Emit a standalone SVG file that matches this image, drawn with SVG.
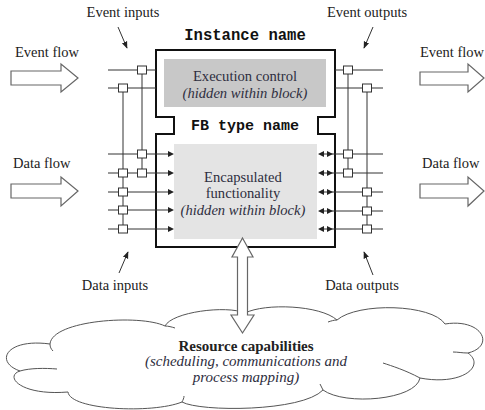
<svg xmlns="http://www.w3.org/2000/svg" width="485" height="410" viewBox="0 0 485 410">
<defs>
<style>
.lbl{font-family:"Liberation Serif","Times New Roman",serif;font-size:14.5px;fill:#222}
.box{font-family:"Liberation Serif","Times New Roman",serif;font-size:14.6px;fill:#2e2e40}
.it{font-style:italic}
.mono{font-family:"Liberation Mono","Courier New",monospace;font-size:15px;font-weight:bold;fill:#111}
.ln{stroke:#333;stroke-width:1;fill:none}
.sq{fill:#fff;stroke:#333;stroke-width:1}
.blk{fill:#fff;stroke:#666;stroke-width:1.2}
.tri{fill:#222;stroke:none}
.cloud{fill:#fff;stroke:#555;stroke-width:1}
</style>
<marker id="ah" viewBox="0 0 10 10" refX="9" refY="5" markerWidth="7" markerHeight="7" orient="auto"><path d="M0,1 L10,5 L0,9 Z" fill="#222"/></marker>
</defs>
<rect width="485" height="410" fill="#fff"/>

<g id="cloud">
<path class="cloud" d="M50,344 C52,320 140,314 165,326 C172,312 226,305 245,313 C265,303 320,305 337,320 C358,302 432,304 445,324 C482,318 496,346 468,353 C486,366 462,386 420,378 C416,400 345,406 323,390 C302,412 200,412 182,402 C152,414 70,410 68,392 C20,396 4,376 20,371 C-6,362 6,338 50,344 Z"/>
<path class="ln" style="stroke:#555" d="M20,371 C30,368 45,368 57,369 M420,378 C405,370 392,366 383,363 M468,353 C462,353 458,352 453,352 M165,326 C168,326 172,327 175,328 M337,320 C334,320 331,321 328,322 M50,344 C50,347 51,349 53,351 M182,402 C183,400 184,398 184,396 M323,390 C322,388 321,386 320,384"/>
<text class="lbl" x="246" y="351" text-anchor="middle" font-weight="bold" style="font-size:15px">Resource capabilities</text>
<text class="box it" x="246" y="366" text-anchor="middle" style="font-size:15px">(scheduling, communications and</text>
<text class="box it" x="246" y="382" text-anchor="middle" style="font-size:15px">process mapping)</text>
</g>

<g id="fb-block">
<path d="M156,50 H335 V117 H318 V134 H335 V247 H156 V134 H174 V117 H156 Z" fill="#fff" stroke="#111" stroke-width="2"/>
<rect x="164" y="59" width="162" height="48" fill="#c8c8c8"/>
<rect x="174" y="144" width="143" height="95" fill="#e4e4e4"/>
<text class="mono" x="245" y="40" text-anchor="middle" style="font-size:15.6px">Instance name</text>
<text class="mono" x="245" y="130" text-anchor="middle">FB type name</text>
<text class="box" x="245" y="81" text-anchor="middle">Execution control</text>
<text class="box it" x="245" y="98" text-anchor="middle">(hidden within block)</text>
<text class="box" x="243" y="182" text-anchor="middle">Encapsulated</text>
<text class="box" x="243" y="198" text-anchor="middle">functionality</text>
<text class="box it" x="243" y="215" text-anchor="middle">(hidden within block)</text>
</g>

<g id="connectors">
<path class="ln" d="M108,70 H156 M108,88 H156 M142,70 V173 M123,88 V229"/>
<path class="ln" d="M108,154 H170 M108,173 H170 M108,192 H170 M108,210 H170 M108,229 H170"/>
<path class="tri" d="M168,151 L174,154 L168,157 Z M168,170 L174,173 L168,176 Z M168,189 L174,192 L168,195 Z M168,207 L174,210 L168,213 Z M168,226 L174,229 L168,232 Z"/>
<path class="ln" d="M335,70 H383 M335,88 H383 M348,70 V173 M367,88 V229"/>
<path class="ln" d="M322,154 H383 M322,173 H383 M322,192 H383 M322,211 H383 M322,229 H383"/>
<path class="tri" d="M318,154 L324,151 L324,157 Z M333,154 L327,151 L327,157 Z M318,173 L324,170 L324,176 Z M333,173 L327,170 L327,176 Z M318,192 L324,189 L324,195 Z M333,192 L327,189 L327,195 Z M318,211 L324,208 L324,214 Z M333,211 L327,208 L327,214 Z M318,229 L324,226 L324,232 Z M333,229 L327,226 L327,232 Z"/>
<rect class="sq" x="137.5" y="66" width="9" height="8"/>
<rect class="sq" x="118.5" y="84" width="9" height="8"/>
<rect class="sq" x="137.5" y="150" width="9" height="8"/>
<rect class="sq" x="137.5" y="169" width="9" height="8"/>
<rect class="sq" x="118.5" y="169" width="9" height="8"/>
<rect class="sq" x="118.5" y="188" width="9" height="8"/>
<rect class="sq" x="118.5" y="206" width="9" height="8"/>
<rect class="sq" x="118.5" y="225" width="9" height="8"/>
<rect class="sq" x="343.5" y="66" width="9" height="8"/>
<rect class="sq" x="362.5" y="84" width="9" height="8"/>
<rect class="sq" x="343.5" y="150" width="9" height="8"/>
<rect class="sq" x="343.5" y="169" width="9" height="8"/>
<rect class="sq" x="362.5" y="188" width="9" height="8"/>
<rect class="sq" x="362.5" y="207" width="9" height="8"/>
<rect class="sq" x="362.5" y="225" width="9" height="8"/>
<path class="ln" marker-end="url(#ah)" d="M118,27 L127,48"/>
<path class="ln" marker-end="url(#ah)" d="M373,27 L364,48"/>
<path class="ln" marker-end="url(#ah)" d="M119,273 L128,252"/>
<path class="ln" marker-end="url(#ah)" d="M373,275 L364,252"/>
<polygon class="blk" points="11,71 61,71 61,64 78,78 61,92 61,85 11,85"/>
<polygon class="blk" points="420,72 468,72 468,64 484,78 468,92 468,85 420,85"/>
<polygon class="blk" points="11,184 61,184 61,177 78,191 61,206 61,198 11,198"/>
<polygon class="blk" points="420,184 468,184 468,177 484,191 468,206 468,198 420,198"/>
<polygon class="blk" points="242.5,238 253,257 247.5,257 247.5,315 254,315 242.5,333 231,315 237.5,315 237.5,257 232,257"/>
</g>

<g id="labels">
<text class="lbl" x="123" y="17" text-anchor="middle">Event inputs</text>
<text class="lbl" x="367" y="17" text-anchor="middle">Event outputs</text>
<text class="lbl" x="15" y="57">Event flow</text>
<text class="lbl" x="420" y="57">Event flow</text>
<text class="lbl" x="13" y="168">Data flow</text>
<text class="lbl" x="422" y="168">Data flow</text>
<text class="lbl" x="115" y="290" text-anchor="middle">Data inputs</text>
<text class="lbl" x="362" y="290" text-anchor="middle">Data outputs</text>
</g>
</svg>
